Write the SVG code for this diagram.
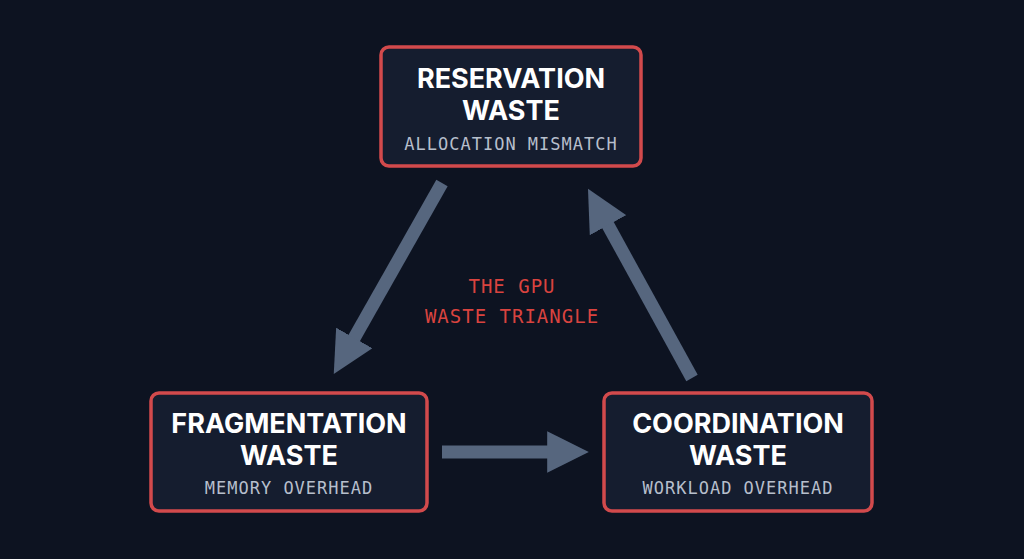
<svg xmlns="http://www.w3.org/2000/svg" width="1024" height="559" viewBox="0 0 1024 559">
<style>
.box{fill:#151d2f;stroke:#d24a4c;stroke-width:3.5}
.t{font-family:Inter,"Liberation Sans",sans-serif;font-weight:700;font-size:27px;fill:#ffffff;text-anchor:middle}
.s{font-family:"DejaVu Sans Mono","Liberation Mono",monospace;font-size:17px;fill:#b7bfcc;text-anchor:middle;letter-spacing:1px}
.c{font-family:"DejaVu Sans Mono","Liberation Mono",monospace;font-size:19px;fill:#d9433f;text-anchor:middle;letter-spacing:1px}
.a{stroke:#56667e;stroke-width:13;fill:none}
</style>
<defs>
<marker id="h" viewBox="0 0 10 10" refX="5" refY="5" markerWidth="3.2" markerHeight="3.2" orient="auto" markerUnits="strokeWidth">
<path d="M0,0 L10,5 L0,10 z" fill="#56667e"/>
</marker>
</defs>
<rect width="1024" height="559" fill="#0d1321"/>
<g id="connectors">
<line class="a" x1="442" y1="183" x2="344" y2="356" marker-end="url(#h)"/>
<line class="a" x1="442" y1="452" x2="568" y2="452" marker-end="url(#h)"/>
<line class="a" x1="692" y1="378" x2="598" y2="207" marker-end="url(#h)"/>
</g>
<g id="center">
<text class="c" x="512" y="293">THE GPU</text>
<text class="c" x="512" y="323">WASTE TRIANGLE</text>
</g>
<g id="reservation">
<rect class="box" x="381" y="47" width="260" height="119" rx="8"/>
<text class="t" x="511" y="88">RESERVATION</text>
<text class="t" x="511" y="120">WASTE</text>
<text class="s" x="511" y="150">ALLOCATION MISMATCH</text>
</g>
<g id="fragmentation">
<rect class="box" x="151" y="393" width="276" height="118" rx="8"/>
<text class="t" x="289" y="433">FRAGMENTATION</text>
<text class="t" x="289" y="465">WASTE</text>
<text class="s" x="289" y="494">MEMORY OVERHEAD</text>
</g>
<g id="coordination">
<rect class="box" x="604" y="393" width="268" height="118" rx="8"/>
<text class="t" x="738" y="433">COORDINATION</text>
<text class="t" x="738" y="465">WASTE</text>
<text class="s" x="738" y="494">WORKLOAD OVERHEAD</text>
</g>
</svg>
